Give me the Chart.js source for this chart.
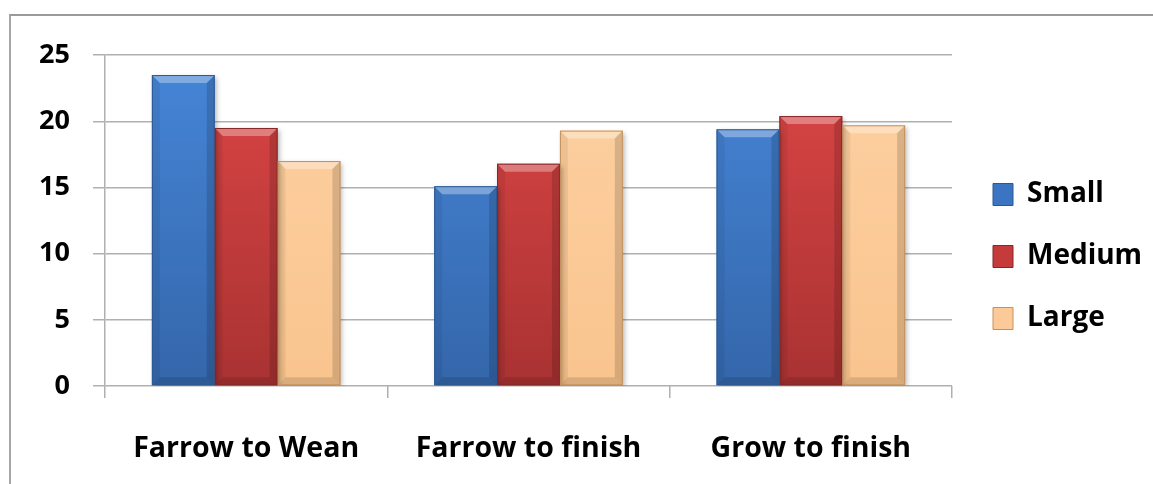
<!DOCTYPE html>
<html>
<head>
<meta charset="utf-8">
<script src="https://cdn.jsdelivr.net/npm/chart.js"></script>
<style>
  html, body { margin: 0; padding: 0; background: #fff; }
  body { width: 1153px; height: 484px; position: relative; overflow: hidden; }
  #frame {
    position: absolute; left: 9px; top: 14px; right: 0; bottom: 0;
    border-top: 2px solid #9a9a9a; border-left: 2px solid #a6a6a6;
  }
  #chart { position: absolute; left: 0; top: 0; }
</style>
</head>
<body>
<div id="frame"><canvas id="chart" width="1142" height="468"></canvas></div>
<script>
const categories = ['Farrow to Wean', 'Farrow to finish', 'Grow to finish'];
const seriesNames = ['Small', 'Medium', 'Large'];
const small = [23.5, 15.1, 19.4];
const medium = [19.5, 16.8, 20.4];
const large = [17.0, 19.3, 19.7];
const yTicks = [0, 5, 10, 15, 20, 25];

// top colour, bottom colour, legend colour, edge colour
const palette = [
    ['#4686d8', '#3466aa', '#3b74c2', '#2c5891'],
    ['#dd4646', '#a93232', '#c53b3b', '#862626'],
    ['#fdd1a2', '#f9c48e', '#fbca98', '#c4915e']
];

const tickFont = { family: 'Open Sans', weight: 'bold', size: 27 };
const labelFont = { family: 'Open Sans', weight: 'bold', size: 28.5 };

function gradient(i) {
    return (ctx) => {
        const area = ctx.chart.chartArea;
        if (!area) return palette[i][2];
        const g = ctx.chart.ctx.createLinearGradient(0, area.top, 0, area.bottom);
        g.addColorStop(0, palette[i][0]);
        g.addColorStop(1, palette[i][1]);
        return g;
    };
}

const bevel = {
    id: 'bevel',
    beforeInit(chart) {
        const fit = chart.legend.fit;
        chart.legend.fit = function () {
            fit.call(this);
            this.width = 201;
        };
    },
    afterLayout(chart) {
        const lg = chart.legend;
        lg.left = 948;
        lg.top = 36;
        lg.bottom = 445;
    },
    beforeDatasetsDraw(chart) {
        const c = chart.ctx;
        c.save();
        c.shadowColor = 'rgba(0,0,0,0.3)';
        c.shadowBlur = 5;
        c.shadowOffsetX = 2;
        c.shadowOffsetY = 2;
    },
    afterDatasetsDraw(chart) {
        const c = chart.ctx;
        c.restore();
        chart.data.datasets.forEach((ds, i) => {
            chart.getDatasetMeta(i).data.forEach(bar => {
                const p = bar.getProps(['x', 'y', 'base', 'width'], true);
                const l = p.x - p.width / 2, r = p.x + p.width / 2;
                const t = p.y, b = p.base, s = 8;
                const poly = (pts, fill) => {
                    c.beginPath();
                    c.moveTo(pts[0][0], pts[0][1]);
                    pts.slice(1).forEach(q => c.lineTo(q[0], q[1]));
                    c.closePath();
                    c.fillStyle = fill;
                    c.fill();
                };
                c.save();
                poly([[l, t], [r, t], [r - s, t + s], [l + s, t + s]], 'rgba(255,255,255,0.32)');
                poly([[l, t], [l + s, t + s], [l + s, b - s], [l, b]], 'rgba(0,0,0,0.06)');
                poly([[r, t], [r - s, t + s], [r - s, b - s], [r, b]], 'rgba(0,0,0,0.14)');
                poly([[l, b], [l + s, b - s], [r - s, b - s], [r, b]], 'rgba(0,0,0,0.12)');
                c.strokeStyle = palette[i][3];
                c.lineWidth = 1;
                c.strokeRect(l + 0.5, t + 0.5, p.width - 1, b - t - 1);
                c.restore();
            });
        });
    }
};

new Chart(document.getElementById('chart'), {
    type: 'bar',
    data: {
        labels: categories,
        datasets: [small, medium, large].map((d, i) => ({
            label: seriesNames[i],
            data: d,
            backgroundColor: gradient(i),
            borderWidth: 0,
            barPercentage: 1,
            categoryPercentage: 0.668
        }))
    },
    options: {
        responsive: false,
        animation: false,
        devicePixelRatio: 1,
        layout: { padding: { top: 33, right: 0, bottom: 0, left: 0 } },
        plugins: {
            tooltip: { enabled: false },
            legend: {
                position: 'right',
                labels: {
                    font: { family: 'Open Sans', weight: 'bold', size: 28 },
                    color: '#000',
                    boxWidth: 20,
                    boxHeight: 22,
                    padding: 34,
                    generateLabels: (chart) => chart.data.datasets.map((ds, i) => ({
                        text: ds.label,
                        fillStyle: palette[i][2],
                        strokeStyle: palette[i][3],
                        lineWidth: 1,
                        datasetIndex: i
                    }))
                }
            }
        },
        scales: {
            x: {
                offset: true,
                grid: {
                    offset: true,
                    drawOnChartArea: false,
                    drawTicks: true,
                    tickLength: 12,
                    color: '#b0b0b0',
                    lineWidth: 1.5
                },
                border: { display: false },
                ticks: { font: labelFont, color: '#000', padding: 34, maxRotation: 0 },
                afterFit: (s) => { s.height = 98; }
            },
            y: {
                min: 0,
                max: 25,
                afterBuildTicks: (s) => { s.ticks = yTicks.map(v => ({ value: v })); },
                grid: { color: '#b0b0b0', lineWidth: 1.5, tickLength: 12 },
                border: { display: true, color: '#b0b0b0', width: 1.5 },
                ticks: { font: tickFont, color: '#000', padding: 23 },
                afterFit: (s) => { s.width = 94; }
            }
        }
    },
    plugins: [bevel]
});
</script>
</body>
</html>
